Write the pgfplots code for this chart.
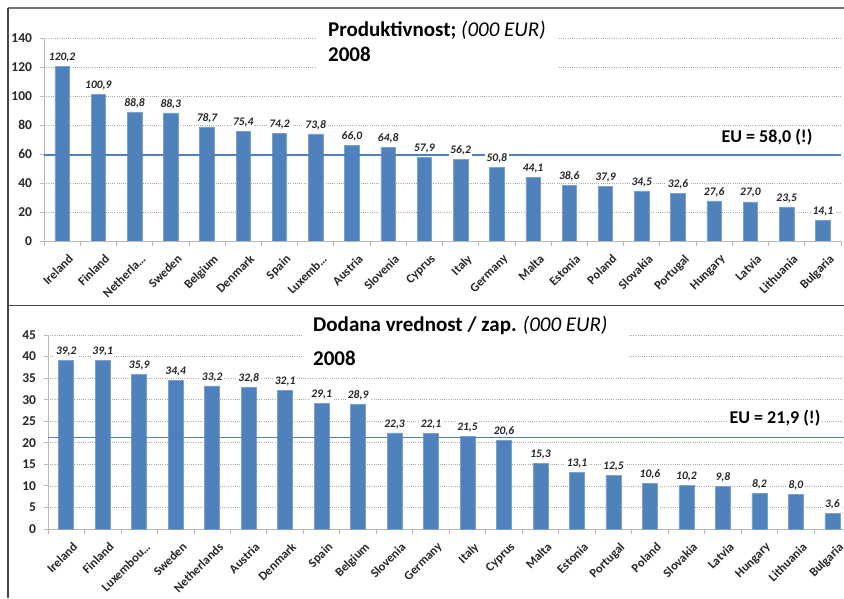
\documentclass[border=0pt]{standalone}
\usepackage{fontspec}
\setmainfont{Carlito}
\usepackage{pgfplots}
\pgfplotsset{compat=1.18}

\definecolor{barblue}{RGB}{79,129,189}
\definecolor{baredge}{RGB}{125,160,205}
\definecolor{gridgray}{RGB}{170,170,170}
\definecolor{axgray}{RGB}{185,185,185}
\definecolor{framegray}{RGB}{70,70,70}

\newcommand{\ytickfont}{\fontsize{13.5}{13.5}\selectfont\bfseries}
\newcommand{\xtickfont}{\fontsize{12.5}{12.5}\selectfont\bfseries}

\pgfplotsset{
  excelbars/.style={
    scale only axis,
    xmin=-0.5, xmax=21.5, ymin=0,
    axis x line*=bottom, axis y line*=left,
    axis line style={-, draw=axgray, line width=0.8pt},
    tick style={draw=axgray, line width=0.8pt},
    tick align=outside,
    major tick length=4pt,
    xtick={0,...,21},
    major x tick style={draw=none},
    minor xtick={-0.5,0.5,...,21.5},
    minor tick length=5pt,
    ymajorgrids,
    major grid style={draw=gridgray, line width=0.6pt, dash pattern=on 1pt off 1.2pt},
    /pgf/number format/assume math mode=true,
    every y tick label/.append style={font=\ytickfont, text=black!85, xshift=-4.5pt},
    every x tick label/.append style={font=\xtickfont, text=black!85,
      rotate=45, anchor=north east, inner sep=1pt, yshift=-9pt, xshift=-1pt},
  },
  valbars/.style={
    ybar, bar width=#1, bar shift=0pt,
    fill=barblue, draw=baredge, line width=0.6pt,
    point meta=y,
    nodes near coords={\pgfmathprintnumber[fixed, fixed zerofill, precision=1, use comma, assume math mode=true]{\pgfplotspointmeta}},
    every node near coord/.append style={font=\fontsize{11.5}{12}\selectfont\bfseries\itshape,
      text=black!85, fill=white, inner sep=1.5pt, yshift=2.5pt},
  },
  euline/.style={draw=barblue, color=barblue, line width=1.1pt, sharp plot, mark=none, forget plot},
}

\begin{document}
\begin{tikzpicture}[x=1pt, y=1pt]

% top panel
\begin{axis}[excelbars,
  at={(44pt,357pt)}, anchor=south west,
  width=797pt, height=203pt,
  ymax=140, ytick={0,20,...,140},
  xticklabels={Ireland, Finland, Netherla…, Sweden, Belgium, Denmark, Spain, Luxemb…, Austria, Slovenia, Cyprus,
    Italy, Germany, Malta, Estonia, Poland, Slovakia, Portugal, Hungary, Latvia, Lithuania, Bulgaria},
]
\addplot[valbars=14.5pt] coordinates {
(0,120.2) (1,100.9) (2,88.8) (3,88.3) (4,78.7) (5,75.4) (6,74.2) (7,73.8) (8,66.0) (9,64.8) (10,57.9)
(11,56.2) (12,50.8) (13,44.1) (14,38.6) (15,37.9) (16,34.5) (17,32.6) (18,27.6) (19,27.0) (20,23.5) (21,14.1)
};
\addplot[euline] coordinates {(-0.5,59.3) (21.5,59.3)};
\end{axis}

% bottom panel
\begin{axis}[excelbars,
  at={(48pt,69pt)}, anchor=south west,
  width=802.6pt, height=194pt,
  ymax=45, ytick={0,5,...,45},
  xticklabels={Ireland, Finland, Luxembou…, Sweden, Netherlands, Austria, Denmark, Spain, Belgium, Slovenia, Germany,
    Italy, Cyprus, Malta, Estonia, Portugal, Poland, Slovakia, Latvia, Hungary, Lithuania, Bulgaria},
]
\addplot[valbars=15pt] coordinates {
(0,39.2) (1,39.1) (2,35.9) (3,34.4) (4,33.2) (5,32.8) (6,32.1) (7,29.1) (8,28.9) (9,22.3) (10,22.1)
(11,21.5) (12,20.6) (13,15.3) (14,13.1) (15,12.5) (16,10.6) (17,10.2) (18,9.8) (19,8.2) (20,8.0) (21,3.6)
};
\addplot[euline] coordinates {(-0.5,21.3) (21.5,21.3)};
\end{axis}

% titles (white boxes hide the grid behind them)
\fill[white] (317,580) rectangle (558,528);
\node[anchor=base west, inner sep=0pt, font=\fontsize{21}{21}\selectfont] at (328,561)
  {\bfseries Produktivnost; \mdseries\itshape (000 EUR)};
\node[anchor=base west, inner sep=0pt, font=\fontsize{21}{21}\selectfont\bfseries] at (328,536) {2008};
\node[fill=white, inner sep=2pt, font=\fontsize{18}{18}\selectfont\bfseries] at (767,461) {EU = 58,0 (!)};

\fill[white] (302,283) rectangle (628,228);
\node[anchor=base west, inner sep=0pt, font=\fontsize{21}{21}\selectfont] at (313,266)
  {\bfseries Dodana vrednost / zap. \mdseries\itshape (000 EUR)};
\node[anchor=base west, inner sep=0pt, font=\fontsize{21}{21}\selectfont\bfseries] at (313,233) {2008};
\node[fill=white, inner sep=2pt, font=\fontsize{18}{18}\selectfont\bfseries] at (775,180) {EU = 21,9 (!)};

% frame
\fill[framegray!75] (7.5,589) rectangle (844,590.5);
\draw[framegray, line width=1.2pt] (8,590) -- (8,0);
\draw[framegray, line width=1.2pt] (8,292.5) -- (844,292.5);

% page = the reference's 844 x 598 area
\pgfresetboundingbox
\path[use as bounding box] (0,0) rectangle (844,598);
\end{tikzpicture}
\end{document}
